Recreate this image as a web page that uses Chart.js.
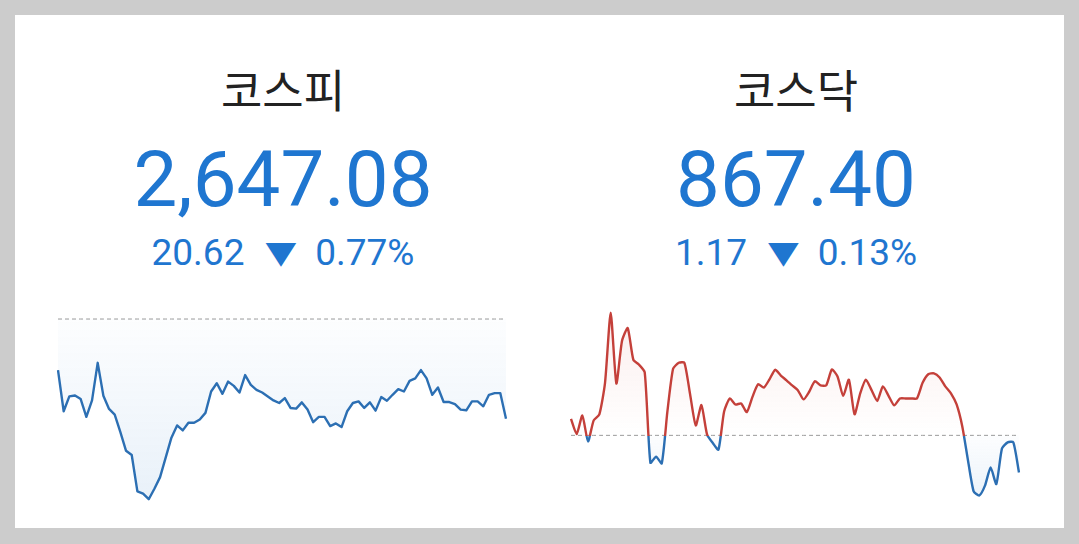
<!DOCTYPE html>
<html lang="ko">
<head>
<meta charset="utf-8">
<script src="https://cdn.jsdelivr.net/npm/chart.js@4/dist/chart.umd.min.js"></script>
<style>
  html, body { margin: 0; padding: 0; }
  body { width: 1079px; height: 544px; background: #cccccc; position: relative; overflow: hidden;
         font-family: Roboto, "Noto Sans CJK KR", sans-serif; }
  .card { position: absolute; left: 15px; top: 15px; width: 1049px; height: 513px; background: #fff; }
  .t { position: absolute; width: 500px; text-align: center; white-space: nowrap; }
  .title { font-family: "Noto Sans CJK KR", sans-serif; font-size: 45px; line-height: 45px; color: #222; top: 66px; }
  .price { font-size: 78px; line-height: 78px; color: #1f76d0; top: 141px; }
  .chg { font-size: 37px; line-height: 37px; color: #1f76d0; top: 233px; }
  .tri { display: inline-block; font-family: "DejaVu Sans", sans-serif; font-size: 40px;
         margin: 0 19px 0 21px; transform: scaleY(0.78); transform-origin: 50% 62%; }
  .left { left: 33px; }
  .right { left: 546px; }
  canvas { position: absolute; }
</style>
</head>
<body>
<div class="card"></div>
<div class="t title left">코스피</div>
<div class="t price left">2,647.08</div>
<div class="t chg left">20.62<span class="tri">▼</span>0.77%</div>
<div class="t title right">코스닥</div>
<div class="t price right">867.40</div>
<div class="t chg right">1.17<span class="tri">▼</span>0.13%</div>
<canvas id="kospiChart" width="466" height="210" style="left:50px;top:300px"></canvas>
<canvas id="kosdaqChart" width="466" height="210" style="left:563px;top:300px"></canvas>
<script>
// 전일 종가 (dashed baseline)
const kospiPrev = 2667.70
const kosdaqPrev = 868.57

const kospi = [
  2657.15, 2648.65, 2651.71, 2651.91, 2651.16, 2647.49, 2650.89, 2658.65, 2651.84, 2649.12,
  2647.97, 2644.36, 2640.48, 2639.60, 2632.11, 2631.63, 2630.48, 2632.65, 2635.04, 2639.12,
  2643.20, 2645.72, 2644.70, 2646.26, 2646.26, 2646.94, 2648.31, 2652.73, 2654.43, 2652.25,
  2654.77, 2653.89, 2652.52, 2656.13, 2654.09, 2653.07, 2652.52, 2651.71, 2650.89, 2650.35,
  2651.37, 2649.33, 2649.19, 2650.48, 2648.99, 2646.40, 2647.49, 2647.49, 2645.58, 2646.13,
  2645.38, 2648.65, 2650.35, 2650.69, 2649.33, 2650.48, 2648.78, 2651.57, 2650.82, 2652.05,
  2653.21, 2652.73, 2654.91, 2655.45, 2657.15, 2655.45, 2652.05, 2653.55, 2650.55, 2650.55,
  2650.14, 2648.99, 2648.85, 2650.69, 2650.69, 2649.67, 2652.05, 2652.39, 2652.39, 2647.08,
]

const kosdaq = [
  869.09, 868.61, 869.19, 868.38, 869.04, 869.23, 870.22, 872.42, 870.20, 871.54,
  871.94, 870.94, 870.79, 870.55, 867.71, 867.90, 867.69, 869.32, 870.66, 870.85,
  870.85, 869.86, 868.88, 869.52, 868.59, 868.33, 868.12, 869.32, 869.73, 869.54,
  869.57, 869.30, 869.78, 870.18, 870.07, 870.33, 870.63, 870.45, 870.30, 870.14,
  869.99, 869.70, 869.94, 870.27, 870.14, 870.14, 870.64, 870.42, 869.81, 870.32,
  869.23, 869.89, 870.32, 869.99, 869.65, 870.11, 869.81, 869.51, 869.73, 869.73,
  869.73, 869.73, 870.22, 870.49, 870.52, 870.39, 870.11, 869.89, 869.54, 868.85,
  867.79, 866.81, 866.68, 866.99, 867.56, 867.04, 868.16, 868.35, 868.35, 867.40,
]

const UP = '#c4403a'
const DOWN = '#2c6fb3'

function makeChart(el, values, prev, yMin, yMax, tension) {
  const labels = values.map((_, i) => i)
  const chart = new Chart(el, {
    type: 'line',
    data: {
      labels: labels,
      datasets: [
        {
          data: values,
          borderColor: DOWN,
          borderWidth: 2.4,
          borderJoinStyle: 'round',
          pointRadius: 0,
          tension: tension,
          fill: false,
        },
        {
          data: values.map(() => prev),
          borderColor: '#9a9a9a',
          borderWidth: 1,
          borderDash: [4, 3],
          pointRadius: 0,
          fill: false,
        },
      ],
    },
    options: {
      responsive: false,
      animation: false,
      layout: { padding: { left: 8, right: 10, top: 0, bottom: 0 } },
      plugins: { legend: { display: false }, tooltip: { enabled: false } },
      scales: {
        x: { display: false, offset: false },
        y: { display: false, min: yMin, max: yMax },
      },
    },
  })

  // colours split at the previous close
  const c = chart.ctx
  const area = chart.chartArea
  const yb = chart.scales.y.getPixelForValue(prev)
  const stop = Math.min(1, Math.max(0, (yb - area.top) / (area.bottom - area.top)))

  const stroke = c.createLinearGradient(0, area.top, 0, area.bottom)
  stroke.addColorStop(0, UP)
  stroke.addColorStop(stop, UP)
  stroke.addColorStop(stop, DOWN)
  stroke.addColorStop(1, DOWN)

  const above = c.createLinearGradient(0, area.top, 0, yb)
  above.addColorStop(0, 'rgba(210, 70, 60, 0.10)')
  above.addColorStop(1, 'rgba(210, 70, 60, 0.0)')
  const below = c.createLinearGradient(0, yb, 0, area.bottom)
  below.addColorStop(0, 'rgba(40, 120, 200, 0.01)')
  below.addColorStop(1, 'rgba(40, 120, 200, 0.11)')

  const ds = chart.data.datasets[0]
  ds.borderColor = stroke
  ds.fill = { target: { value: prev }, above: above, below: below }
  chart.update()
  return chart
}

makeChart(document.getElementById('kospiChart'), kospi, kospiPrev, 2628.50, 2671.38, 0)
makeChart(document.getElementById('kosdaqChart'), kosdaq, kosdaqPrev, 866.262, 872.785, 0.2)
</script>
</body>
</html>
